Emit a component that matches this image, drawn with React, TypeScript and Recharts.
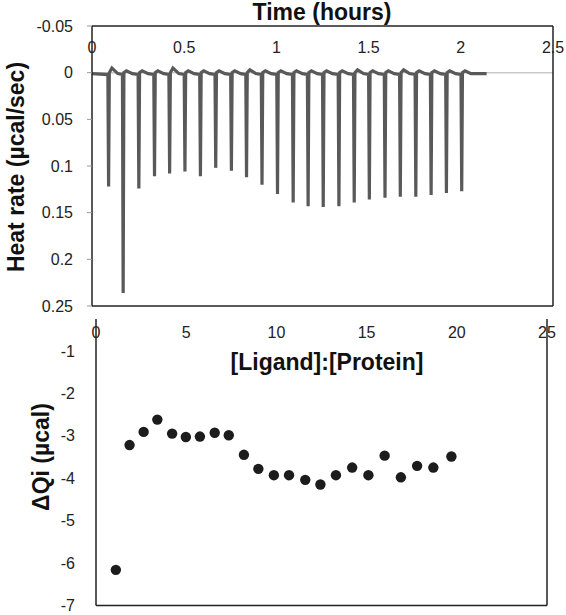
import React from 'react';
import {
  LineChart, Line, ScatterChart, Scatter, XAxis, YAxis, ReferenceLine,
} from 'recharts';

// top panel: raw ITC thermogram
const timeTicks = [0, 0.5, 1, 1.5, 2, 2.5];
const heatTicks = [-0.05, 0, 0.05, 0.1, 0.15, 0.2, 0.25];
const injectionTimes = [
  0.09, 0.169, 0.254, 0.339, 0.421, 0.504, 0.588, 0.671, 0.756, 0.838, 0.922, 1.006,
  1.091, 1.172, 1.254, 1.339, 1.422, 1.504, 1.589, 1.672, 1.756, 1.839, 1.922, 2.005,
];
const peakHeat = [
  0.122, 0.236, 0.124, 0.111, 0.108, 0.106, 0.111, 0.102, 0.105, 0.112, 0.12, 0.13,
  0.139, 0.143, 0.144, 0.143, 0.139, 0.136, 0.134, 0.133, 0.133, 0.131, 0.129, 0.127,
];
const reboundHeat = [
  -0.005, -0.002, -0.002, -0.002, -0.005, -0.002, -0.002, -0.002, -0.002, -0.003, -0.002, -0.002,
  -0.002, -0.002, -0.002, -0.002, -0.003, -0.002, -0.002, -0.003, -0.002, -0.002, -0.002, -0.002,
];
const traceEnd = 2.14;

// bottom panel: integrated heats
const ratioTicks = [0, 5, 10, 15, 20, 25];
const dqTicks = [-1, -2, -3, -4, -5, -6, -7];
const molarRatio = [
  1.1, 1.86, 2.64, 3.4, 4.22, 4.98, 5.76, 6.58, 7.36, 8.2, 9.0, 9.86,
  10.7, 11.6, 12.44, 13.3, 14.2, 15.1, 16.0, 16.9, 17.8, 18.7, 19.7,
];
const deltaQ = [
  -6.16, -3.22, -2.91, -2.62, -2.95, -3.03, -3.02, -2.93, -2.99, -3.45, -3.78, -3.93,
  -3.93, -4.04, -4.15, -3.93, -3.75, -3.93, -3.47, -3.98, -3.71, -3.75, -3.49,
];

const trace: { t: number; q: number }[] = [{ t: 0, q: 0.001 }];
injectionTimes.forEach((t, i) => {
  trace.push({ t: t - 0.004, q: 0.002 });
  trace.push({ t, q: peakHeat[i] });
  trace.push({ t: t + 0.004, q: 0 });
  trace.push({ t: t + 0.018, q: reboundHeat[i] });
  trace.push({ t: t + 0.05, q: 0.001 });
});
trace.push({ t: traceEnd, q: 0.001 });

const titrations = molarRatio.map((x, i) => ({ x, y: deltaQ[i] }));

const FONT = '"Liberation Sans", Arial, sans-serif';
const tickStyle = { fontSize: 16, fill: '#222', fontFamily: FONT };
const titleStyle: React.CSSProperties = {
  position: 'absolute', fontFamily: FONT, fontWeight: 700, fontSize: 23,
  color: '#111', whiteSpace: 'nowrap', transform: 'translate(-50%, -50%)',
};

const App = () => {
  return (
    <div style={{ position: 'absolute', left: 0, top: 0, width: 566, height: 615, background: '#fff', overflow: 'hidden' }}>
      <div style={{ position: 'absolute', left: 0, top: 0 }}>
        <LineChart width={566} height={315} data={trace} margin={{ top: 26, right: 13, bottom: 9, left: 0 }}>
          <XAxis
            dataKey="t" type="number" domain={[0, 2.5]} ticks={timeTicks} orientation="top" mirror
            axisLine={{ stroke: '#222', strokeWidth: 1.5 }} tickLine={false} tickSize={0} tickMargin={16}
            tick={tickStyle} interval={0}
          />
          <YAxis
            type="number" domain={[-0.05, 0.25]} ticks={heatTicks} reversed width={92}
            axisLine={{ stroke: '#222', strokeWidth: 1.5 }} tickLine={{ stroke: '#999' }} tickSize={5} tickMargin={14}
            tick={tickStyle} interval={0} allowDataOverflow
          />
          <ReferenceLine y={0} stroke="#c8c8c8" strokeWidth={1.5} />
          <ReferenceLine y={0.25} stroke="#222" strokeWidth={1.5} />
          <ReferenceLine x={2.5} stroke="#222" strokeWidth={1.5} />
          <Line dataKey="q" type="linear" stroke="#595959" strokeWidth={3.2} dot={false} isAnimationActive={false} />
        </LineChart>
      </div>
      <div style={{ position: 'absolute', left: 0, top: 310 }}>
        <ScatterChart width={566} height={320} margin={{ top: 9, right: 19, bottom: 24.5, left: 0 }}>
          <XAxis
            dataKey="x" type="number" domain={[0, 25]} ticks={ratioTicks} orientation="top" mirror
            axisLine={false} tickLine={false} tickSize={0} tickMargin={8} tick={tickStyle} interval={0}
          />
          <YAxis
            dataKey="y" type="number" domain={[-7, -0.25]} ticks={dqTicks} width={96}
            axisLine={{ stroke: '#222', strokeWidth: 1.5 }} tickLine={false} tickSize={0} tickMargin={21}
            tick={tickStyle} interval={0} allowDataOverflow
          />
          <ReferenceLine y={-7} stroke="#222" strokeWidth={1.5} />
          <ReferenceLine x={25} stroke="#222" strokeWidth={1.5} />
          <Scatter
            data={titrations} isAnimationActive={false}
            shape={(p: any) => <circle cx={p.cx} cy={p.cy} r={5.2} fill="#1c1c1c" />}
          />
        </ScatterChart>
      </div>
      <div style={{ ...titleStyle, left: 322, top: 12 }}>Time (hours)</div>
      <div style={{ ...titleStyle, left: 16, top: 167, transform: 'translate(-50%, -50%) rotate(-90deg)' }}>
        Heat rate (µcal/sec)
      </div>
      <div style={{ ...titleStyle, left: 327, top: 362 }}>[Ligand]:[Protein]</div>
      <div style={{ ...titleStyle, left: 41, top: 457, transform: 'translate(-50%, -50%) rotate(-90deg)' }}>
        ΔQi (µcal)
      </div>
    </div>
  );
};

export default App;
